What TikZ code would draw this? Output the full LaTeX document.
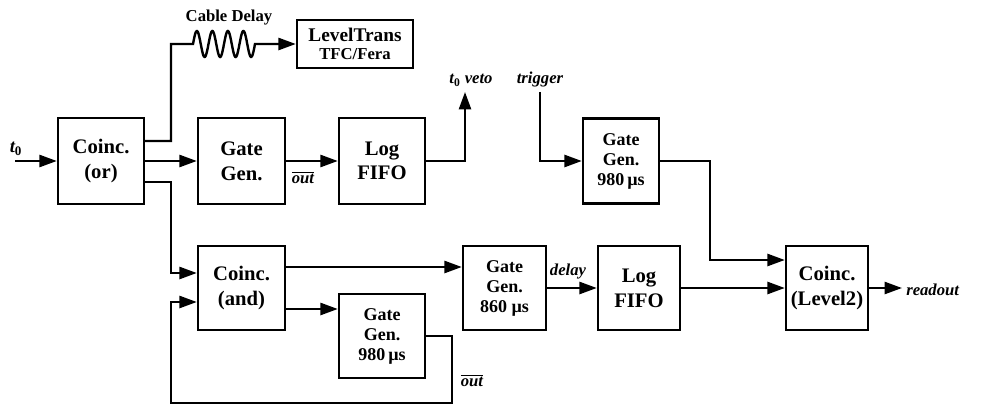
\documentclass[tikz,border=0pt]{standalone}
\usepackage{fontspec}
\setmainfont{Liberation Serif}
\usetikzlibrary{arrows.meta,calc}
\begin{document}
\begin{tikzpicture}[x=0.75pt,y=-0.75pt,
  blk/.style={draw,line width=1.8pt,rectangle,inner sep=0pt,align=center,font=\fontsize{15.5}{18.5}\selectfont\bfseries},
  blk3/.style={blk,font=\fontsize{13.5}{15}\selectfont\bfseries},
  wire/.style={line width=1.8pt},
  arr/.style={wire,-{Triangle[length=13pt,width=9pt]}},
  lbl/.style={font=\fontsize{12.5}{14}\selectfont\bfseries\itshape,inner sep=0pt},
]
\useasboundingbox (0,0) rectangle (984,406);

% blocks
\node[blk,minimum width=64.5pt,minimum height=64.5pt] (cor) at (101,161) {Coinc.\\(or)};
\node[blk,minimum width=65.25pt,minimum height=64.5pt] (gg1) at (241.5,161) {Gate\\Gen.};
\node[blk,minimum width=64.5pt,minimum height=64.5pt] (lf1) at (382,161) {Log\\FIFO};
\node[blk,minimum width=87pt,minimum height=36pt,font=\fontsize{14.5}{14}\selectfont\bfseries] (lt) at (355,44)
  {LevelTrans\\{\fontsize{12.5}{13}\selectfont TFC/Fera}};
\node[blk3,minimum width=57pt,minimum height=63.75pt] (gg2) at (621,161) {Gate\\Gen.\\980\,µs};
\node[blk,minimum width=65.25pt,minimum height=63pt] (cand) at (241.5,288) {Coinc.\\(and)};
\node[blk3,minimum width=64.5pt,minimum height=63pt] (gg3) at (382,336) {Gate\\Gen.\\980\,µs};
\node[blk3,minimum width=62.25pt,minimum height=63pt] (gg4) at (504.5,288) {Gate\\Gen.\\860 µs};
\node[blk,minimum width=61.5pt,minimum height=63pt] (lf2) at (639,288) {Log\\FIFO};
\node[blk,minimum width=61.5pt,minimum height=63pt] (cl2) at (827,288) {Coinc.\\(Level2)};

% free ends
\coordinate (t0) at (15,161);
\coordinate (veto) at (465,92);
\coordinate (trig) at (540,92);
\coordinate (ro) at (902,288);

% labels
\node[lbl] (t0lbl) at (16,149) {\fontsize{14}{14}\selectfont t\textsubscript{\upshape 0}};
\node[lbl,anchor=base] (vetolbl) at (471,84) {t\textsubscript{\upshape 0} veto};
\node[lbl,anchor=base] (triglbl) at (540,84) {trigger};
\node[lbl,anchor=west] (rolbl) at (906,290) {readout};
\node[lbl] (cdlbl) at (229,18) {\upshape Cable Delay};
\node[lbl] (out1) at (303,178) {$\overline{\mbox{out}}$};
\node[lbl] (out2) at (472,381) {$\overline{\mbox{out}}$};
\node[lbl] (dlbl) at (568,272) {delay};

% connectors
\draw[arr] (t0) -- (cor.west);
\draw[arr] (cor.east) -- (gg1.west);
\draw[arr] (gg1.east) -- (lf1.west);
\draw[arr] ($(cor.east)+(0,-20)$) -| (171,44) -- (193,44)
  -- plot[domain=0:62,samples=120,smooth] ({193+\x},{44-13*sin(\x*23.2258)})
  -- (lt.west);
\draw[arr] (lf1.east) -| (veto);
\draw[arr] (trig) |- (gg2.west);
\draw[arr] (gg2.east) -| (710,260) -- ($(cl2.west)+(0,-28)$);
\draw[arr] ($(cor.east)+(0,21)$) -| (171,273) -- ($(cand.west)+(0,-15)$);
\draw[arr] ($(cand.east)+(0,-21)$) -- ($(gg4.west)+(0,-21)$);
\draw[arr] ($(cand.east)+(0,21)$) -- ($(gg3.west)+(0,-27)$);
\draw[arr] (gg3.east) -| (452,403) -| (171,302) -- ($(cand.west)+(0,14)$);
\draw[arr] (gg4.east) -- (lf2.west);
\draw[arr] (lf2.east) -- (cl2.west);
\draw[arr] (cl2.east) -- (ro);
\end{tikzpicture}
\end{document}
